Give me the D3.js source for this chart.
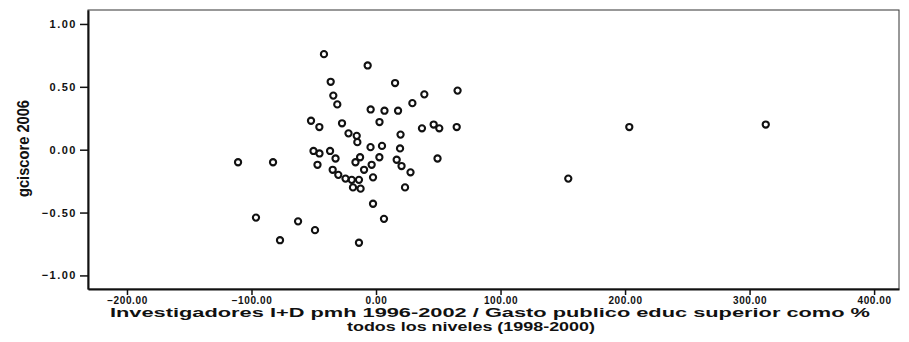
<!DOCTYPE html>
<html>
<head>
<meta charset="utf-8">
<script src="https://cdn.jsdelivr.net/npm/d3@7"></script>
<style>
  html, body { margin: 0; padding: 0; background: #fff; }
  svg { display: block; }
  text { font-family: "Liberation Sans", Arial, sans-serif; fill: #111; }
</style>
</head>
<body>
<svg id="chart" width="909" height="342"></svg>
<script>
// Researchers in R&D per million vs. public spending on higher education (x)
const xValues = [
  -110.8, -82.7, -96.4, -77.1, -62.6, -49.0, -13.7, -2.4, 6.4,
  -41.8, -6.7, -36.4, -34.3, -31.1, -4.3, 6.8, 17.7, 15.3, 38.8, 65.5, 29.2,
  2.8, -52.2, -45.5, -27.3, -22.1, -15.5, -15.0, -4.4, 4.8, 19.7, 19.3,
  36.9, 46.3, 50.8, 64.8,
  -50.2, -45.4, -36.9, -32.5, -47.0, -34.8, -30.3, -24.5, -19.5, -13.7,
  -18.5, -12.4, -16.5, -12.8, -9.6, -3.5, -2.4, 2.7, 16.6, 20.5, 27.7, 23.3, 49.4,
  203.4, 313.0, 154.4
];
// Global Competitiveness Index score 2006 (y)
const yValues = [
  -0.10, -0.10, -0.54, -0.72, -0.57, -0.64, -0.74, -0.43, -0.55,
  0.76, 0.67, 0.54, 0.43, 0.36, 0.32, 0.31, 0.31, 0.53, 0.44, 0.47, 0.37,
  0.22, 0.23, 0.18, 0.21, 0.13, 0.11, 0.06, 0.02, 0.03, 0.12, 0.01,
  0.17, 0.20, 0.17, 0.18,
  -0.01, -0.03, -0.01, -0.07, -0.12, -0.16, -0.20, -0.23, -0.24, -0.24,
  -0.30, -0.31, -0.10, -0.06, -0.16, -0.12, -0.22, -0.06, -0.08, -0.13, -0.18, -0.30, -0.07,
  0.18, 0.20, -0.23
];
const xTicks = [-200, -100, 0, 100, 200, 300, 400];
const yTicks = [-1.0, -0.5, 0.0, 0.5, 1.0];
const xTitle1 = "Investigadores I+D pmh 1996-2002 / Gasto publico educ superior como %";
const xTitle2 = "todos los niveles (1998-2000)";
const yTitle = "gciscore 2006";

const svg = d3.select("#chart");
const plot = { left: 88, right: 899, top: 10, bottom: 289 };

const x = d3.scaleLinear().domain([-231.3, 420]).range([plot.left, plot.right]);
const y = d3.scaleLinear().domain([-1.108, 1.111]).range([plot.bottom, plot.top]);
const fmt = d3.format(".2f");

// plot frame
svg.append("rect")
  .attr("x", plot.left).attr("y", plot.top)
  .attr("width", plot.right - plot.left).attr("height", plot.bottom - plot.top)
  .attr("fill", "none").attr("stroke", "#333").attr("stroke-width", 1);

// x axis
const gx = svg.append("g")
  .attr("transform", `translate(0,${plot.bottom})`)
  .call(d3.axisBottom(x).tickValues(xTicks).tickFormat(fmt).tickSize(6).tickPadding(2).tickSizeOuter(0));
gx.select(".domain").attr("stroke", "#111").attr("stroke-width", 2);
gx.selectAll(".tick line").attr("stroke", "#111").attr("stroke-width", 1.5);
gx.selectAll(".tick text")
  .style("font-size", "10px").style("font-weight", "bold").style("letter-spacing", "0.6px")
  .attr("fill", "#111");

// y axis
const gy = svg.append("g")
  .attr("transform", `translate(${plot.left},0)`)
  .call(d3.axisLeft(y).tickValues(yTicks).tickFormat(fmt).tickSize(8).tickPadding(3).tickSizeOuter(0));
gy.select(".domain").attr("stroke", "#111").attr("stroke-width", 2);
gy.selectAll(".tick line").attr("stroke", "#111").attr("stroke-width", 1.5);
gy.selectAll(".tick text")
  .style("font-size", "11px").style("font-weight", "bold").style("letter-spacing", "1.5px")
  .attr("fill", "#111");

// points: hollow circles
svg.append("g").selectAll("circle")
  .data(xValues.map((v, i) => [v, yValues[i]]))
  .join("circle")
  .attr("cx", d => x(d[0]))
  .attr("cy", d => y(d[1]))
  .attr("r", 3.1)
  .attr("fill", "none")
  .attr("stroke", "#111")
  .attr("stroke-width", 2.1);

// axis titles
svg.append("text")
  .attr("x", 110).attr("y", 317)
  .attr("textLength", 760).attr("lengthAdjust", "spacingAndGlyphs")
  .style("font-size", "13px").style("font-weight", "bold")
  .text(xTitle1);
svg.append("text")
  .attr("x", 347).attr("y", 331)
  .attr("textLength", 248).attr("lengthAdjust", "spacingAndGlyphs")
  .style("font-size", "13px").style("font-weight", "bold")
  .text(xTitle2);

svg.append("text")
  .attr("transform", "translate(29,197) rotate(-90)")
  .attr("textLength", 97).attr("lengthAdjust", "spacingAndGlyphs")
  .style("font-size", "17px").style("font-weight", "bold")
  .text(yTitle);
</script>
</body>
</html>
